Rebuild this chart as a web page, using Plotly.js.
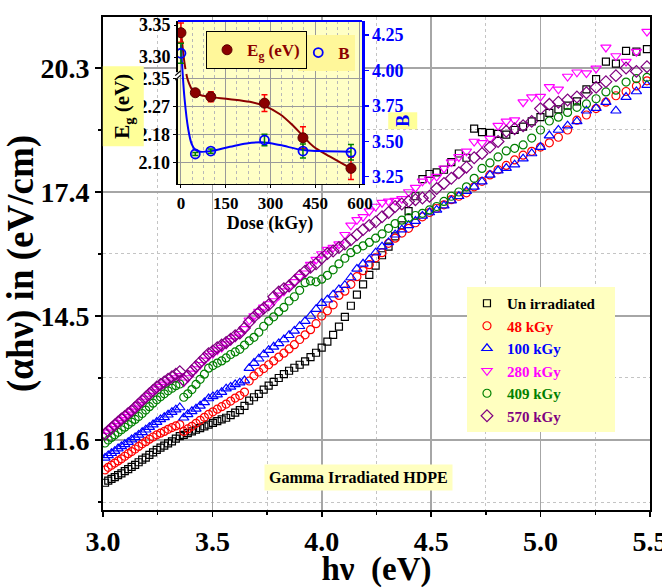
<!DOCTYPE html>
<html><head><meta charset="utf-8">
<script src="https://cdn.plot.ly/plotly-3.0.1.min.js"></script>
<style>html,body{margin:0;padding:0;background:#fff}#chart{width:662px;height:588px}</style>
</head><body><div id="chart"></div>
<script>
// photon energy (eV)
const hv = [3.0093,3.0240,3.0388,3.0538,3.0689,3.0842,3.0996,3.1152,3.1309,3.1468,3.1629,3.1791,3.1955,3.2120,3.2288,3.2457,3.2627,3.2800,3.2974,3.3151,3.3329,3.3509,3.3691,3.3875,3.4062,3.4250,3.4440,3.4633,3.4827,3.5024,3.5223,3.5424,3.5628,3.5834,3.6042,3.6253,3.6466,3.6682,3.6900,3.7121,3.7345,3.7571,3.7800,3.8032,3.8267,3.8504,3.8745,3.8989,3.9236,3.9485,3.9738,3.9995,4.0255,4.0518,4.0784,4.1054,4.1328,4.1605,4.1886,4.2171,4.2460,4.2753,4.3050,4.3351,4.3657,4.3966,4.4280,4.4599,4.4922,4.5250,4.5583,4.5920,4.6263,4.6611,4.6964,4.7322,4.7686,4.8056,4.8431,4.8813,4.9200,4.9594,4.9994,5.0400,5.0813,5.1233,5.1660,5.2094,5.2536,5.2985,5.3442,5.3906,5.4379,5.4860];

const y_unirr = [10.60,10.65,10.69,10.73,10.78,10.82,10.87,10.92,10.97,11.02,11.08,11.14,11.19,11.25,11.31,11.37,11.42,11.47,11.52,11.57,11.63,11.69,11.72,11.76,11.80,11.84,11.88,11.92,11.96,12.00,12.04,12.08,12.12,12.18,12.24,12.30,12.40,12.52,12.60,12.68,12.78,12.87,12.96,13.05,13.14,13.22,13.29,13.36,13.44,13.54,13.64,13.76,13.90,14.06,14.25,14.48,14.74,15.00,15.24,15.46,15.68,15.92,16.12,16.36,16.62,16.95,17.30,17.70,17.82,17.86,17.92,18.10,18.30,18.20,18.88,18.80,18.78,18.76,18.74,18.85,18.93,19.05,19.15,19.25,19.33,19.42,19.52,19.80,20.04,20.45,20.40,20.70,20.68,20.74];

const y_48 = [10.90,10.96,11.01,11.06,11.11,11.16,11.22,11.28,11.33,11.39,11.45,11.51,11.56,11.62,11.67,11.72,11.76,11.80,11.85,11.89,11.93,11.96,11.80,11.86,11.92,11.99,12.06,12.13,12.20,12.26,12.32,12.38,12.44,12.51,12.58,12.64,12.72,12.98,13.10,13.19,13.27,13.36,13.45,13.54,13.63,13.73,13.83,13.95,14.06,14.18,14.32,14.50,14.62,14.76,14.98,15.08,15.24,15.42,15.56,15.70,15.86,15.98,16.20,16.32,16.44,16.55,16.68,16.82,16.92,17.02,17.10,17.22,17.30,17.38,17.52,17.65,17.80,17.92,18.02,18.15,18.26,18.35,18.45,18.55,18.68,18.85,19.08,19.20,19.35,19.50,19.65,19.75,19.88,20.00];

const y_100 = [11.18,11.24,11.29,11.34,11.40,11.45,11.50,11.55,11.61,11.66,11.72,11.78,11.84,11.90,11.96,12.02,12.08,12.13,12.19,12.25,12.31,12.36,12.12,12.20,12.27,12.33,12.40,12.48,12.57,12.62,12.66,12.72,12.80,12.84,12.90,12.94,12.99,13.28,13.40,13.50,13.60,13.70,13.78,13.86,13.95,14.05,14.15,14.26,14.38,14.50,14.66,14.80,14.88,15.00,15.12,15.22,15.40,15.60,15.72,15.82,15.98,16.12,16.22,16.40,16.52,16.62,16.72,16.84,16.92,16.98,17.08,17.20,17.30,17.42,17.52,17.64,17.80,17.90,17.96,18.04,18.18,18.30,18.45,18.72,18.85,18.95,19.05,19.30,19.36,19.50,19.30,19.62,19.75,19.90];

const y_280 = [11.70,11.78,11.86,11.93,12.00,12.07,12.14,12.20,12.27,12.34,12.42,12.50,12.57,12.64,12.72,12.79,12.85,12.90,12.95,13.00,13.05,13.10,12.95,13.05,13.16,13.26,13.36,13.46,13.56,13.62,13.70,13.76,13.84,13.92,14.00,14.08,14.20,14.40,14.50,14.60,14.70,14.78,14.85,14.98,15.08,15.18,15.30,15.42,15.50,15.70,15.82,15.95,16.05,16.10,16.18,16.40,16.62,16.75,16.82,16.95,17.06,17.15,17.18,17.20,17.24,17.40,17.50,17.65,17.70,17.76,17.95,18.10,18.22,18.35,18.58,18.55,18.65,18.95,19.05,19.08,19.50,19.62,19.63,19.86,19.80,20.10,20.20,20.18,20.29,20.78,20.58,20.45,20.68,21.15];

const y_409 = [11.53,11.60,11.66,11.72,11.78,11.84,11.90,11.96,12.02,12.08,12.15,12.22,12.30,12.38,12.46,12.54,12.61,12.68,12.75,12.81,12.87,12.91,12.60,12.68,12.78,12.90,13.02,13.14,13.28,13.34,13.40,13.45,13.52,13.60,13.66,13.72,13.82,13.92,14.00,14.12,14.26,14.38,14.48,14.60,14.70,14.85,14.95,15.10,15.28,15.32,15.30,15.36,15.45,15.58,15.72,15.85,15.98,16.06,16.14,16.22,16.32,16.42,16.55,16.66,16.74,16.80,16.85,16.90,16.98,17.06,17.18,17.30,17.40,17.52,17.72,17.95,18.08,18.22,18.36,18.42,18.50,18.66,18.85,19.06,19.15,19.26,19.38,19.46,19.58,19.74,19.78,19.97,20.05,20.08];

const y_570 = [11.74,11.81,11.88,11.95,12.02,12.09,12.15,12.22,12.28,12.36,12.44,12.52,12.60,12.68,12.76,12.84,12.90,12.96,13.02,13.08,13.14,13.20,13.00,13.10,13.22,13.32,13.42,13.52,13.62,13.68,13.76,13.82,13.88,13.96,14.04,14.10,14.22,14.36,14.48,14.58,14.68,14.76,14.95,15.06,15.14,15.20,15.32,15.44,15.55,15.64,15.72,15.85,15.96,16.02,16.10,16.18,16.28,16.40,16.52,16.62,16.70,16.82,16.92,17.06,17.12,17.18,17.22,17.26,17.30,17.48,17.60,17.72,17.85,17.98,18.20,18.30,18.45,18.58,18.82,18.88,18.95,19.05,19.35,19.45,19.50,19.55,19.62,19.72,19.85,19.98,20.12,20.30,20.22,20.33];

const seriesNames = ['Un irradiated','48 kGy','100 kGy','280 kGy','409 kGy','570 kGy'];
const seriesColors = ['#000000','#ff0000','#0000ff','#ff00ff','#008000','#800080'];
const seriesSymbols = ['square-open','circle-open','triangle-up-open','triangle-down-open','circle-open','diamond-open'];
const seriesSizes = [7,8,9,9,8,9];
const seriesY = [y_unirr, y_48, y_100, y_280, y_409, y_570];

// inset data
const dose = [0,48,100,280,409,570];
const eg = [3.338,2.309,2.297,2.278,2.175,2.084];
const egErr = [0.015,0.006,0.015,0.025,0.033,0.033];
const bVal = [4.121,3.410,3.431,3.509,3.431,3.422];
const bErr = [0.07,0.01,0.015,0.04,0.05,0.055];
// fitted guide curves
const egFitDoseUpper = [0,4,8,12,15];
const egFitUpper = [3.338,3.322,3.305,3.290,3.281];
const egFitDoseLower = [18,22,28,36,50,75,100,164,231,280,332,377,409,444,500,570];
const egFitLower = [2.365,2.350,2.335,2.320,2.307,2.300,2.296,2.290,2.282,2.270,2.245,2.210,2.180,2.149,2.119,2.084];
const bFitDose = [0,5,12,24,36,48,64,100,164,220,280,332,409,466,570];
const bFit = [4.18,4.00,3.80,3.59,3.48,3.44,3.426,3.431,3.461,3.485,3.492,3.473,3.438,3.431,3.426];

const egTickVals = [2.10,2.18333,2.26667,2.35];
const egTickText = ['2.10','2.18','2.27','2.35'];

const F = 'Liberation Serif, Times New Roman, serif';
const maroon = '#8b0000';

const traces = [];
seriesNames.forEach((n,i)=>{
  const label = i===0 ? n+'&nbsp;&nbsp;&nbsp;&nbsp;' : n;
  traces.push({
    type:'scatter', mode:'markers', x:hv, y:seriesY[i], xaxis:'x', yaxis:'y',
    name:'<span style="color:'+seriesColors[i]+'">'+label+'</span>',
    marker:{symbol:seriesSymbols[i], size:seriesSizes[i], color:seriesColors[i], line:{width:1.2,color:seriesColors[i]}},
    legend:'legend'
  });
});

// inset curves
traces.push({type:'scatter', mode:'lines', x:egFitDoseUpper, y:egFitUpper, xaxis:'x2', yaxis:'y4', line:{color:maroon,width:2,shape:'spline'}, showlegend:false, hoverinfo:'skip'});
traces.push({type:'scatter', mode:'lines', x:egFitDoseLower, y:egFitLower, xaxis:'x2', yaxis:'y3', line:{color:maroon,width:2,shape:'spline'}, showlegend:false, hoverinfo:'skip'});
traces.push({type:'scatter', mode:'lines', x:bFitDose, y:bFit, xaxis:'x2', yaxis:'y5', line:{color:'#0000ff',width:2,shape:'spline'}, showlegend:false, hoverinfo:'skip'});
// B data
traces.push({type:'scatter', mode:'markers', x:dose, y:bVal, xaxis:'x2', yaxis:'y5',
  name:'<span style="color:'+maroon+'">B</span>', legend:'legend3',
  marker:{symbol:'circle-open', size:9, color:'#0000ff', line:{width:1.8,color:'#0000ff'}},
  error_y:{type:'data', array:bErr, visible:true, color:'#008000', thickness:1.5, width:3}});
// Eg data (point 0 sits above the axis break)
traces.push({type:'scatter', mode:'markers', x:dose.slice(0,1), y:eg.slice(0,1), xaxis:'x2', yaxis:'y4', showlegend:false,
  marker:{symbol:'circle', size:10, color:maroon, line:{width:1,color:'#5a0000'}},
  error_y:{type:'data', array:egErr.slice(0,1), visible:true, color:'#ff0000', thickness:1.5, width:3}});
traces.push({type:'scatter', mode:'markers', x:dose.slice(1), y:eg.slice(1), xaxis:'x2', yaxis:'y3',
  name:'<span style="color:'+maroon+'">E<sub>g</sub> (eV)</span>', legend:'legend2',
  marker:{symbol:'circle', size:10, color:maroon, line:{width:1,color:'#5a0000'}},
  error_y:{type:'data', array:egErr.slice(1), visible:true, color:'#ff0000', thickness:1.5, width:3}});

const xDom2 = [0.1371,0.4735];
const yDom3 = [0.6613,0.9919];

const layout = {
  width:662, height:588,
  margin:{l:103,r:12,t:17,b:78},
  paper_bgcolor:'#ffffff', plot_bgcolor:'#ffffff',
  font:{family:F, color:'#000'},
  showlegend:true,
  xaxis:{domain:[0,1], range:[3.0,5.5], tickvals:[3.0,3.5,4.0,4.5,5.0,5.5], ticktext:['3.0','3.5','4.0','4.5','5.0','5.5'],
    tickfont:{family:F,size:28,weight:'bold',color:'#000'}, ticklabeloverflow:'allow',
    showgrid:true, gridcolor:'#a6a6a6', gridwidth:1.5, zeroline:false,
    minor:{dtick:0.25, tick0:3.0, showgrid:true, gridcolor:'#c4c4c4', griddash:'dot', gridwidth:1, ticks:'outside', ticklen:3, tickcolor:'#000'},
    showline:true, linecolor:'#000', linewidth:2, mirror:true, ticks:'outside', ticklen:5, tickwidth:1.5, tickcolor:'#000',
    title:{text:'<b>hν  (eV)</b>', font:{family:F,size:33,color:'#000'}, standoff:6}},
  yaxis:{domain:[0,1], range:[9.963,21.492], tickvals:[11.6,14.5,17.4,20.3], ticktext:['11.6','14.5','17.4','20.3'],
    tickfont:{family:F,size:28,weight:'bold',color:'#000'},
    showgrid:true, gridcolor:'#a6a6a6', gridwidth:1.5, zeroline:false,
    minor:{tickvals:[10.15,13.05,15.95,18.85], showgrid:true, gridcolor:'#c4c4c4', griddash:'dot', gridwidth:1, ticks:'outside', ticklen:3, tickcolor:'#000'},
    showline:true, linecolor:'#000', linewidth:2, mirror:true, ticks:'outside', ticklen:6, tickwidth:1.5, tickcolor:'#000',
    title:{text:'<b>(αhν) in (eV/cm)</b>', font:{family:F,size:37,color:'#000'}, standoff:0}},
  xaxis2:{domain:xDom2, anchor:'y3', range:[-10,607], tickvals:[0,150,300,450,600],
    tickfont:{family:F,size:17,weight:'bold',color:'#000'},
    showgrid:true, gridcolor:'#9a9a9a', gridwidth:1, zeroline:false,
    minor:{dtick:37.5, tick0:0, showgrid:true, gridcolor:'#b8b8b8', griddash:'dot'},
    showline:true, linecolor:'#000', linewidth:1.5, ticks:'outside', ticklen:3, tickcolor:'#000',
    title:{text:'<b>Dose (kGy)</b>', font:{family:F,size:18,color:'#000'}, standoff:2}},
  yaxis3:{domain:yDom3, anchor:'x2', range:[2.0375,2.5226], tickvals:egTickVals, ticktext:egTickText,
    tickfont:{family:F,size:18,weight:'bold',color:'#000'},
    showgrid:true, gridcolor:'#9a9a9a', gridwidth:1, zeroline:false,
    showline:true, linecolor:'#000', linewidth:1.5, ticks:'outside', ticklen:3, tickcolor:'#000'},
  yaxis4:{overlaying:'y3', anchor:'x2', side:'left', range:[3.1016,3.3563], tickvals:[3.30,3.35], ticktext:['3.30','3.35'],
    tickfont:{family:F,size:18,weight:'bold',color:'#000'},
    showgrid:false, zeroline:false, showline:false, ticks:'outside', ticklen:3, tickcolor:'#000'},
  yaxis5:{overlaying:'y3', anchor:'x2', side:'right', range:[3.1985,4.3488], tickvals:[3.25,3.50,3.75,4.00,4.25], ticktext:['3.25','3.50','3.75','4.00','4.25'],
    tickfont:{family:F,size:18,weight:'bold',color:'#0000ff'},
    showgrid:false, zeroline:false, showline:true, linecolor:'#0000ff', linewidth:2.5, ticks:'outside', ticklen:4, tickwidth:1.5, tickcolor:'#0000ff'},
  legend:{x:0.6654, y:0.4523, xanchor:'left', yanchor:'top', bgcolor:'#ffffc0', borderwidth:0,
    font:{family:F,size:15,weight:'bold'}, itemsizing:'trace', tracegroupgap:0},
  legend2:{x:0.188, y:0.9716, xanchor:'left', yanchor:'top', bgcolor:'#fff79a', bordercolor:'#000', borderwidth:1.2,
    font:{family:F,size:17,weight:'bold'}, itemsizing:'trace'},
  legend3:{x:0.357, y:0.9635, xanchor:'left', yanchor:'top', bgcolor:'#fff79a', borderwidth:0,
    font:{family:F,size:17,weight:'bold'}, itemsizing:'trace'},
  shapes:[
    {type:'rect', xref:'x2', yref:'y3', x0:-10, x1:607, y0:2.0375, y1:2.5226, fillcolor:'#ffffc6', line:{width:0}, layer:'below'},
    {type:'line', xref:'paper', yref:'paper', x0:xDom2[0], x1:xDom2[1], y0:yDom3[1], y1:yDom3[1], line:{color:'#0000ff',width:2}, layer:'above'},
    {type:'rect', xref:'paper', yref:'paper', x0:0.1335, x1:0.1405, y0:0.875, y1:0.888, fillcolor:'#ffffff', line:{width:0}, layer:'above'},
    {type:'line', xref:'paper', yref:'paper', x0:0.1320, x1:0.1420, y0:0.872, y1:0.882, line:{color:'#000',width:1.2}, layer:'above'},
    {type:'line', xref:'paper', yref:'paper', x0:0.1320, x1:0.1420, y0:0.881, y1:0.891, line:{color:'#000',width:1.2}, layer:'above'}
  ],
  annotations:[
    {xref:'paper', yref:'paper', x:0.468, y:0.065, xanchor:'center', yanchor:'middle', text:'<b>Gamma Irradiated HDPE</b>', showarrow:false,
      font:{family:F,size:16,color:'#000'}, bgcolor:'#ffffc0', borderpad:4},
    {xref:'paper', yref:'paper', x:0.0366, y:0.818, xanchor:'center', yanchor:'middle', text:'<b>E<sub>g</sub> (eV)</b>', textangle:-90, showarrow:false,
      font:{family:F,size:21,color:'#000'}, bgcolor:'#ffff99', borderpad:7},
    {xref:'paper', yref:'paper', x:0.548, y:0.789, xanchor:'center', yanchor:'middle', text:'<b>B</b>', textangle:-90, showarrow:false,
      font:{family:F,size:18,color:'#0000ff'}, bgcolor:'#ffff99', width:12, height:24, borderpad:2}
  ]
};

Plotly.newPlot('chart', traces, layout, {displayModeBar:false, staticPlot:true});
</script>
</body></html>
